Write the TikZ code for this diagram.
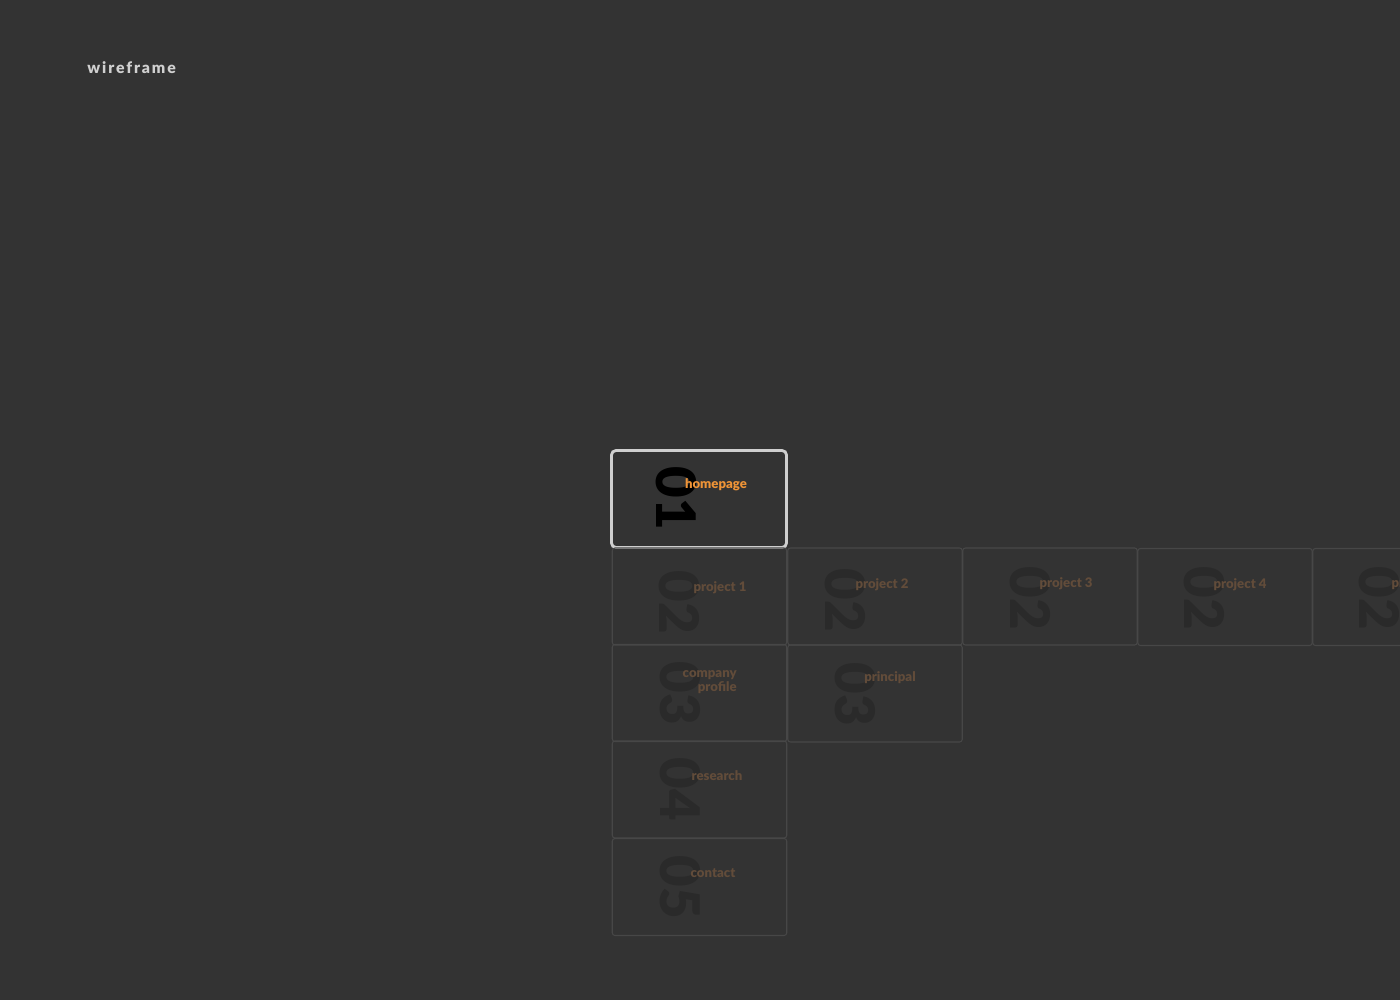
\documentclass[tikz,border=0pt]{standalone}
\usepackage{fontspec}
\setmainfont{Lato}[BoldFont={Lato Black}]
\usepackage{xcolor}

\definecolor{bgdark}{HTML}{333333}
\definecolor{edgegrey}{HTML}{474747}
\definecolor{framegrey}{HTML}{CFCFCF}
\definecolor{numgrey}{HTML}{2A2A2A}
\definecolor{mutedorange}{HTML}{624C3A}
\definecolor{brightorange}{HTML}{EF9437}
\definecolor{headgrey}{HTML}{D0D0D0}

\tikzset{
  page/.style={draw=edgegrey,line width=0.6pt,rounded corners=1.5pt,minimum width=3.49cm,minimum height=1.94cm,inner sep=0pt},
  current/.style={page,draw=framegrey,line width=1.6pt,rounded corners=2.5pt,minimum width=3.5cm,minimum height=1.94cm},
  num/.style={rotate=-90,font=\fontsize{31}{31}\selectfont\bfseries,text=numgrey,inner sep=0pt},
  title/.style={font=\fontsize{7.5}{6.3}\selectfont\bfseries,text=mutedorange,inner sep=0pt,align=right},
}

\begin{document}
\begin{tikzpicture}[x=0.02cm,y=-0.02cm]
\useasboundingbox (0,0) rectangle (1400,1000);
\fill[bgdark] (0,0) rectangle (1400,1000);
\clip (0,0) rectangle (1400,1000);

\node[font=\fontsize{9}{9}\selectfont\bfseries\addfontfeatures{LetterSpace=12},text=headgrey,anchor=west,inner sep=0pt] (head) at (87,67.5) {wireframe};

% pages
\node[current] (home) at (699,499) {};
\node[page] (proj1) at (699.5,596.5) {};
\node[page] (proj2) at (875,596.5) {};
\node[page] (proj3) at (1050,596.5) {};
\node[page] (proj4) at (1225,597) {};
\node[page] (proj5) at (1400,597) {};
\node[page] (profile) at (699.5,693) {};
\node[page] (principal) at (875,693.5) {};
\node[page] (research) at (699.5,789.5) {};
\node[page] (contact) at (699.5,887) {};

% numbers
\node[num,text=black] (nhome) at (676,498) {01};
\node[num] (nproj1) at (679,602) {02};
\node[num] (nproj2) at (845,600) {02};
\node[num] (nproj3) at (1030,598) {02};
\node[num] (nproj4) at (1204,598) {02};
\node[num] (nproj5) at (1379,598) {02};
\node[num] (nprofile) at (680,693) {03};
\node[num] (nprincipal) at (855,694) {03};
\node[num] (nresearch) at (680,789) {04};
\node[num] (ncontact) at (680,887) {05};

% titles
\node[title,text=brightorange] (thome) at (716,484.5) {homepage};
\node[title] (tproj1) at (720,587.5) {project 1};
\node[title] (tproj2) at (882,584.5) {project 2};
\node[title] (tproj3) at (1066,583.5) {project 3};
\node[title] (tproj4) at (1240,584.5) {project 4};
\node[title] (tproj5) at (1418,583.5) {project 5};
\node[title,anchor=east] (tprofile) at (737,682.5) {company\\profile};
\node[title] (tprincipal) at (890,677.5) {principal};
\node[title] (tresearch) at (717,775.5) {research};
\node[title] (tcontact) at (713,873.5) {contact};
\end{tikzpicture}
\end{document}
